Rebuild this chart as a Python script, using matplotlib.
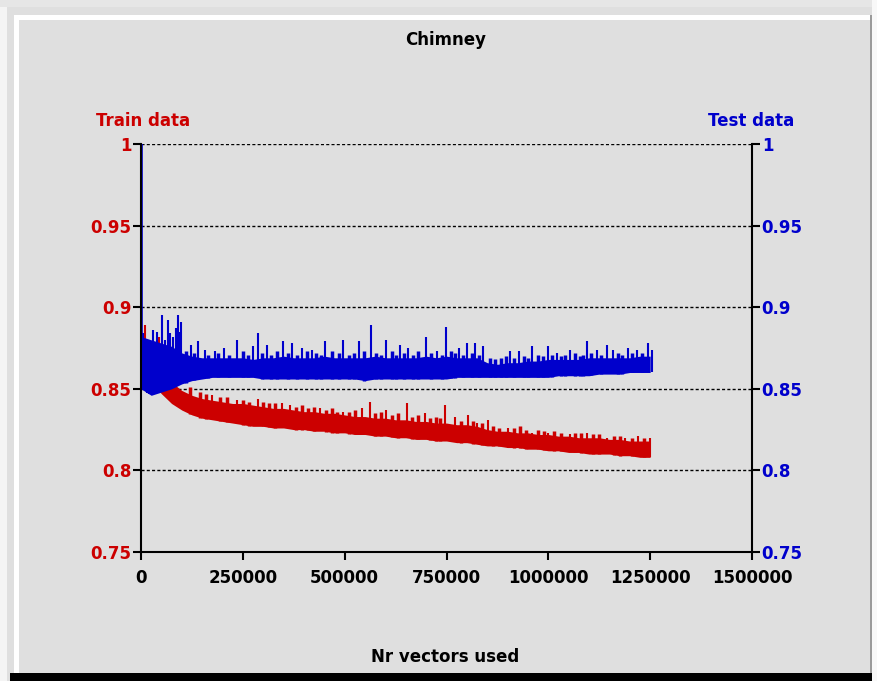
import matplotlib
matplotlib.use("Agg")
import matplotlib.pyplot as plt
from matplotlib.patches import Rectangle
import numpy as np

# ---------------- data ----------------
env_x = [i * 25000 for i in range(51)]  # 0 .. 1250000

test_low = [0.850, 0.846, 0.848, 0.850, 0.853, 0.855, 0.856, 0.857, 0.857, 0.857,
            0.857, 0.857, 0.856, 0.856, 0.856, 0.856, 0.856, 0.856, 0.856, 0.856,
            0.856, 0.856, 0.855, 0.856, 0.856, 0.856, 0.856, 0.856, 0.856, 0.856,
            0.856, 0.857, 0.857, 0.857, 0.857, 0.857, 0.857, 0.857, 0.857, 0.857,
            0.857, 0.858, 0.858, 0.858, 0.858, 0.859, 0.859, 0.859, 0.860, 0.860,
            0.860]
test_high = [0.882, 0.880, 0.878, 0.876, 0.872, 0.870, 0.869, 0.869, 0.869, 0.869,
             0.869, 0.868, 0.869, 0.869, 0.870, 0.869, 0.869, 0.869, 0.870, 0.869,
             0.869, 0.869, 0.869, 0.870, 0.869, 0.869, 0.869, 0.869, 0.870, 0.869,
             0.870, 0.869, 0.869, 0.869, 0.866, 0.865, 0.866, 0.866, 0.867, 0.867,
             0.868, 0.868, 0.868, 0.868, 0.869, 0.869, 0.869, 0.869, 0.869, 0.870,
             0.870]
train_low = [0.862, 0.854, 0.847, 0.841, 0.837, 0.834, 0.832, 0.831, 0.830, 0.829,
             0.828, 0.827, 0.827, 0.826, 0.826, 0.825, 0.825, 0.824, 0.824, 0.823,
             0.823, 0.822, 0.822, 0.821, 0.821, 0.820, 0.820, 0.819, 0.819, 0.818,
             0.818, 0.817, 0.817, 0.816, 0.815, 0.815, 0.814, 0.814, 0.813, 0.813,
             0.812, 0.812, 0.811, 0.811, 0.810, 0.810, 0.810, 0.809, 0.809, 0.808,
             0.808]
train_high = [0.880, 0.872, 0.862, 0.854, 0.849, 0.846, 0.844, 0.843, 0.842, 0.841,
              0.841, 0.840, 0.839, 0.838, 0.838, 0.837, 0.836, 0.836, 0.835, 0.835,
              0.834, 0.833, 0.833, 0.832, 0.832, 0.831, 0.831, 0.830, 0.830, 0.829,
              0.829, 0.828, 0.828, 0.827, 0.825, 0.824, 0.824, 0.823, 0.823, 0.822,
              0.822, 0.821, 0.821, 0.820, 0.820, 0.820, 0.819, 0.819, 0.818, 0.818,
              0.818]

# tall spikes above the dense band
test_spike_x = [5000, 15000, 20000, 29500, 40000, 51500, 58000, 66000, 70000,
                78500, 85000, 91000, 95000, 98000, 123000, 140000, 157000,
                182000, 204000, 236000, 275000, 287000, 309000, 348600, 370700,
                395300, 419800, 451700, 495900, 535200, 564600, 601500, 635800,
                655500, 699700, 726700, 748800, 780700, 800400, 820000, 839700,
                905900, 928000, 960000, 999200, 1021300, 1053200, 1094900,
                1119500, 1144000, 1158800, 1195600, 1217700, 1244700, 1254500]
test_spike_y = [0.884, 0.880, 0.878, 0.886, 0.885, 0.895, 0.880, 0.892, 0.884,
                0.882, 0.887, 0.895, 0.885, 0.891, 0.877, 0.879, 0.874,
                0.873, 0.875, 0.880, 0.876, 0.884, 0.877, 0.879, 0.878,
                0.875, 0.874, 0.879, 0.880, 0.879, 0.889, 0.880, 0.877,
                0.875, 0.882, 0.873, 0.888, 0.875, 0.878, 0.878, 0.876,
                0.873, 0.873, 0.876, 0.876, 0.872, 0.874, 0.879,
                0.874, 0.877, 0.874, 0.875, 0.874, 0.878, 0.874]
# small spikes along the band top
test_minor_x = [110000, 130000, 165000, 190000, 215000, 250000, 262000, 298000,
                320000, 335000, 360000, 382000, 408000, 430000, 442000, 470000,
                485000, 510000, 522000, 548000, 578000, 590000, 615000, 625000,
                645000, 668000, 680000, 712000, 738000, 760000, 770000, 790000,
                812000, 830000, 858000, 870000, 885000, 895000, 915000, 940000,
                950000, 975000, 988000, 1010000, 1032000, 1042000, 1065000,
                1078000, 1085000, 1105000, 1130000, 1170000, 1182000, 1205000,
                1230000]
test_minor_y = [0.873, 0.872, 0.871, 0.872, 0.871, 0.873, 0.871, 0.872,
                0.871, 0.873, 0.872, 0.871, 0.873, 0.872, 0.871, 0.873,
                0.872, 0.871, 0.872, 0.873, 0.872, 0.871, 0.873, 0.871,
                0.872, 0.871, 0.873, 0.872, 0.871, 0.873, 0.872, 0.871,
                0.872, 0.871, 0.869, 0.868, 0.869, 0.870, 0.869, 0.870,
                0.869, 0.871, 0.870, 0.871, 0.870, 0.871, 0.872,
                0.870, 0.871, 0.872, 0.871, 0.872, 0.871, 0.872,
                0.872]

train_spike_x = [9800, 34400, 44200, 174300, 235700, 287200, 346200, 365800,
                 439400, 495900, 542500, 562200, 601500, 653100, 697200, 746300,
                 770900, 802800, 824900, 851900, 901000, 960000, 999200, 1053200,
                 1094900, 1144000, 1188200, 1220100, 1249600]
train_spike_y = [0.889, 0.878, 0.882, 0.846, 0.843, 0.844, 0.841, 0.840,
                 0.838, 0.836, 0.838, 0.842, 0.837, 0.841, 0.835, 0.840,
                 0.833, 0.834, 0.829, 0.831, 0.826, 0.823, 0.823, 0.822,
                 0.823, 0.820, 0.820, 0.821, 0.820]
train_minor_x = [120000, 145000, 160000, 195000, 212000, 250000, 265000, 300000,
                 315000, 330000, 380000, 395000, 410000, 425000, 455000, 470000,
                 480000, 510000, 525000, 575000, 590000, 615000, 630000, 665000,
                 680000, 710000, 725000, 735000, 785000, 815000, 838000, 865000,
                 880000, 915000, 930000, 945000, 975000, 990000, 1015000, 1030000,
                 1065000, 1080000, 1110000, 1125000, 1160000, 1175000, 1205000,
                 1235000]
train_minor_y = [0.851, 0.848, 0.847, 0.845, 0.845, 0.843, 0.842, 0.842,
                 0.841, 0.841, 0.839, 0.840, 0.838, 0.839, 0.837, 0.838,
                 0.836, 0.836, 0.837, 0.835, 0.836, 0.834, 0.835, 0.833,
                 0.834, 0.832, 0.833, 0.832, 0.830, 0.830, 0.829, 0.827,
                 0.826, 0.826, 0.827, 0.825, 0.825, 0.824, 0.824, 0.823,
                 0.823, 0.823, 0.822, 0.822, 0.821, 0.821, 0.820,
                 0.820]

test_start_x = 3000
test_start_top = 1.0

x_ticks = [0, 250000, 500000, 750000, 1000000, 1250000, 1500000]
y_ticks = [0.75, 0.8, 0.85, 0.9, 0.95, 1.0]
y_tick_labels = ["0.75", "0.8", "0.85", "0.9", "0.95", "1"]

RED = "#cc0000"
BLUE = "#0000cc"
BG = "#dfdfdf"

W, H = 877, 681
plt.rcParams["font.family"] = ["DejaVu Sans"]
plt.rcParams["font.weight"] = "bold"

fig = plt.figure(figsize=(W / 100, H / 100), dpi=100)
fig.patch.set_facecolor(BG)


def fx(px):
    return px / W


def fy(py):
    return 1 - py / H


def rect(x0, y0, x1, y1, color):
    fig.add_artist(Rectangle((fx(x0), fy(y1)), fx(x1) - fx(x0), fy(y0) - fy(y1),
                             transform=fig.transFigure, facecolor=color,
                             edgecolor="none", zorder=0))


# frame / bevel
rect(0, 0, 7, H, "#f4f4f4")
rect(0, 0, W, 7, "#e6e6e6")
rect(14, 15, 870, 20, "#ffffff")
rect(14, 15, 19, 673, "#ffffff")
rect(870, 15, 872, 673, "#9a9a9a")
rect(872, 0, W, H, "#f8f8f8")
rect(10, 673, 872, H, "#000000")

# axes
ax_l, ax_r, ax_t, ax_b = 141, 752, 144, 552
ax = fig.add_axes([fx(ax_l), fy(ax_b), fx(ax_r) - fx(ax_l), fy(ax_t) - fy(ax_b)])
ax.set_facecolor("none")
ax.set_xlim(0, 1500000)
ax.set_ylim(0.75, 1.0)

ex = np.array(env_x)
# train (red) behind
ax.fill_between(ex, train_low, train_high, color=RED, linewidth=0, zorder=2)
tl = np.interp(train_spike_x, ex, train_low)
ax.vlines(train_spike_x, tl, train_spike_y, color=RED, linewidth=1.5, zorder=2)
tlm = np.interp(train_minor_x, ex, train_low)
ax.vlines(train_minor_x, tlm, train_minor_y, color=RED, linewidth=2.5, zorder=2)
# test (blue) on top
ax.fill_between(ex, test_low, test_high, color=BLUE, linewidth=0, zorder=3)
bl = np.interp(test_spike_x, ex, test_low)
ax.vlines(test_spike_x, bl, test_spike_y, color=BLUE, linewidth=1.5, zorder=3)
blm = np.interp(test_minor_x, ex, test_low)
ax.vlines(test_minor_x, blm, test_minor_y, color=BLUE, linewidth=2.5, zorder=3)
ax.vlines([test_start_x], [test_low[0]], [test_start_top], color=BLUE,
          linewidth=1.2, zorder=3)

# grid
for yv in y_ticks[1:]:
    ax.axhline(yv, color="black", linewidth=1.0, linestyle=(0, (2.2, 1.6)),
               zorder=1)

ax.spines["top"].set_visible(False)
for s in ["left", "bottom", "right"]:
    ax.spines[s].set_linewidth(1.5)
    ax.spines[s].set_color("black")
    ax.spines[s].set_zorder(4)

ax.set_xticks(x_ticks)
ax.set_xticklabels([str(v) for v in x_ticks])
ax.set_yticks(y_ticks)
ax.set_yticklabels(y_tick_labels)
ax.tick_params(axis="x", direction="out", length=6, width=1.5, pad=6,
               labelsize=12, colors="black")
ax.tick_params(axis="y", direction="out", length=6, width=1.5, pad=1,
               labelsize=12, left=True, right=True, labelleft=True,
               labelright=True)
for lab in ax.get_yticklabels() + ax.get_xticklabels():
    lab.set_fontweight("bold")
for t in ax.yaxis.get_major_ticks():
    t.label1.set_color(RED)
    t.label2.set_color(BLUE)

fig.text(fx(446), fy(40), "Chimney", ha="center", va="center", fontsize=12,
         fontweight="bold", color="black")
fig.text(fx(445), fy(657), "Nr vectors used", ha="center", va="center",
         fontsize=12, fontweight="bold", color="black")
fig.text(fx(143), fy(121), "Train data", ha="center", va="center", fontsize=12,
         fontweight="bold", color=RED)
fig.text(fx(751), fy(121), "Test data", ha="center", va="center", fontsize=12,
         fontweight="bold", color=BLUE)

fig.savefig("out.png", dpi=100, facecolor=fig.get_facecolor())
